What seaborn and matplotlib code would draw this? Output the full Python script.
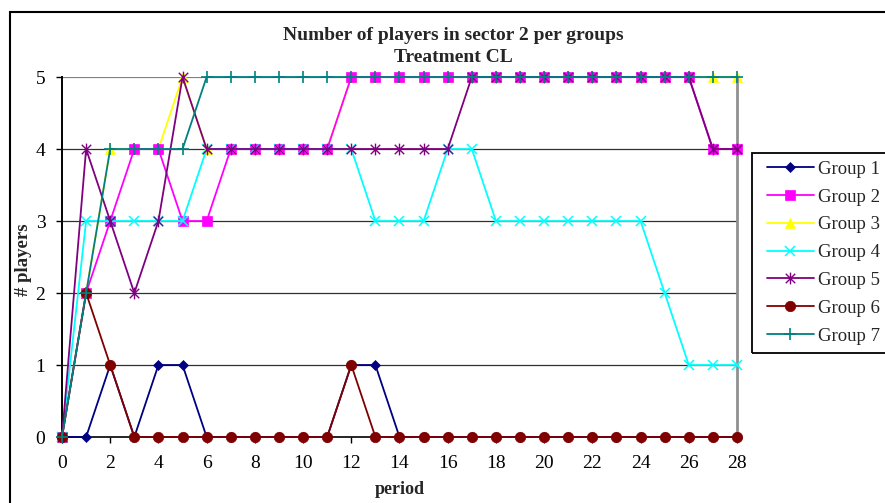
import numpy as np
import pandas as pd
import matplotlib
matplotlib.use("Agg")
import matplotlib.pyplot as plt
from matplotlib.path import Path
from matplotlib.patches import Rectangle
from matplotlib.lines import Line2D
import seaborn as sns

# Players in sector 2, per period, for each group (treatment CL)
periods = list(range(29))
group_1 = [0, 0, 1, 0, 1, 1, 0, 0, 0, 0, 0, 0, 1, 1, 0, 0, 0, 0, 0, 0, 0, 0, 0, 0, 0, 0, 0, 0, 0]
group_2 = [0, 2, 3, 4, 4, 3, 3, 4, 4, 4, 4, 4, 5, 5, 5, 5, 5, 5, 5, 5, 5, 5, 5, 5, 5, 5, 5, 4, 4]
group_3 = [0, 2, 4, 4, 4, 5, 4, 4, 4, 4, 4, 4, 5, 5, 5, 5, 5, 5, 5, 5, 5, 5, 5, 5, 5, 5, 5, 5, 5]
group_4 = [0, 3, 3, 3, 3, 3, 4, 4, 4, 4, 4, 4, 4, 3, 3, 3, 4, 4, 3, 3, 3, 3, 3, 3, 3, 2, 1, 1, 1]
group_5 = [0, 4, 3, 2, 3, 5, 4, 4, 4, 4, 4, 4, 4, 4, 4, 4, 4, 5, 5, 5, 5, 5, 5, 5, 5, 5, 5, 4, 4]
group_6 = [0, 2, 1, 0, 0, 0, 0, 0, 0, 0, 0, 0, 1, 0, 0, 0, 0, 0, 0, 0, 0, 0, 0, 0, 0, 0, 0, 0, 0]
group_7 = [0, 2, 4, 4, 4, 4, 5, 5, 5, 5, 5, 5, 5, 5, 5, 5, 5, 5, 5, 5, 5, 5, 5, 5, 5, 5, 5, 5, 5]

group_names = ["Group 1", "Group 2", "Group 3", "Group 4", "Group 5", "Group 6", "Group 7"]
x_ticks = list(range(0, 29, 2))
y_ticks = [0, 1, 2, 3, 4, 5]

series = [group_1, group_2, group_3, group_4, group_5, group_6, group_7]
df = pd.concat(
    [pd.DataFrame({"period": periods, "players": vals, "group": name})
     for name, vals in zip(group_names, series)],
    ignore_index=True,
)

# Asterisk marker: an x with a vertical bar through it
asterisk = Path(
    [(-1, -1), (1, 1), (-1, 1), (1, -1), (0, -1.25), (0, 1.25)],
    [Path.MOVETO, Path.LINETO, Path.MOVETO, Path.LINETO, Path.MOVETO, Path.LINETO],
)

styles = {
    "Group 1": dict(color="#000080", marker="D", ms=5.5, mew=0.5, z=3),
    "Group 2": dict(color="#FF00FF", marker="s", ms=6.5, mew=0.5, z=4),
    "Group 3": dict(color="#FFFF00", marker="^", ms=7.5, mew=0.5, z=2),
    "Group 4": dict(color="#00FFFF", marker="x", ms=7.5, mew=1.1, z=5),
    "Group 5": dict(color="#800080", marker=asterisk, ms=8.5, mew=1.0, z=6),
    "Group 6": dict(color="#800000", marker="o", ms=7.5, mew=0.5, z=7),
    "Group 7": dict(color="#008080", marker="+", ms=8.5, mew=1.2, z=8),
}

sns.set_theme(style="white")
plt.rcParams["font.family"] = ["Liberation Serif", "DejaVu Serif"]

fig = plt.figure(figsize=(8.85, 5.03), dpi=100)
W, H = 885, 503
ax = fig.add_axes([62 / W, 1 - 437 / H, (737 - 62) / W, (437 - 77) / H])

for name in group_names:
    st = styles[name]
    sub = df[df["group"] == name]
    sns.lineplot(
        data=sub, x="period", y="players", ax=ax, color=st["color"],
        marker=st["marker"], markersize=st["ms"], markeredgewidth=st["mew"],
        markeredgecolor=st["color"], linewidth=1.3, zorder=st["z"],
        clip_on=False, legend=False, errorbar=None,
    )

ax.set_xlim(0, 28)
ax.set_ylim(0, 5)
ax.set_xticks(x_ticks)
ax.set_yticks(y_ticks)
ax.set_xlabel("")
ax.set_ylabel("")
ax.tick_params(axis="both", which="both", labelsize=14, colors="black",
               length=4, width=1.0, direction="out")
ax.tick_params(axis="x", bottom=True, pad=9)
ax.tick_params(axis="y", left=True, pad=8)

for yv in y_ticks[1:5]:
    ax.axhline(yv, color="#303030", lw=0.9, zorder=0.5)
ax.axhline(5, color="#808080", lw=1.6, zorder=0.5)

for side in ["left", "bottom", "right", "top"]:
    ax.spines[side].set_visible(True)
ax.spines["left"].set_color("black")
ax.spines["left"].set_linewidth(1.4)
ax.spines["bottom"].set_color("black")
ax.spines["bottom"].set_linewidth(1.2)
ax.spines["right"].set_color("#909090")
ax.spines["right"].set_linewidth(2.0)
ax.spines["top"].set_visible(False)

# Title, axis titles
fig.text(453 / W, 1 - 35 / H, "Number of players in sector 2 per groups",
         ha="center", va="center", fontsize=14, fontweight="bold")
fig.text(453 / W, 1 - 58 / H, "Treatment CL",
         ha="center", va="center", fontsize=14, fontweight="bold")
fig.text(400 / W, 1 - 490 / H, "period", ha="center", va="center",
         fontsize=13, fontweight="bold")
fig.text(24 / W, 1 - 260 / H, "# players", ha="center", va="center",
         fontsize=13.5, fontweight="bold", rotation=90)

# Outer chart frame
fig.patches.append(Rectangle((10 / W, -0.1), 1.2, 1 - 12 / H + 0.1,
                             transform=fig.transFigure, fill=False,
                             edgecolor="black", lw=1.5, zorder=10))

# Legend
handles = []
for name in group_names:
    st = styles[name]
    handles.append(Line2D([0], [0], color=st["color"], lw=1.3, marker=st["marker"],
                          markersize=st["ms"], markeredgewidth=st["mew"],
                          markeredgecolor=st["color"]))
leg = fig.legend(handles, group_names, loc="upper left",
                 bbox_to_anchor=(761 / W, 1 - 155 / H), frameon=False,
                 fontsize=13.5, handlelength=2.5, handletextpad=0.22,
                 labelspacing=0.57, borderaxespad=0, borderpad=0.3)
fig.patches.append(Rectangle((752 / W, 1 - 353 / H), 0.3, 200 / H,
                             transform=fig.transFigure, fill=False,
                             edgecolor="black", lw=1.3, zorder=10))

fig.savefig("out.png", dpi=100)
